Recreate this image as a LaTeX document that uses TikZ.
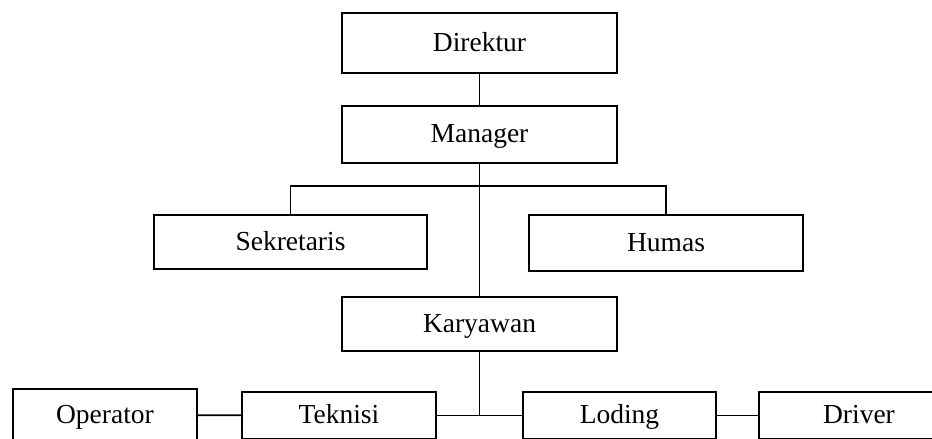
\documentclass[tikz,border=0pt]{standalone}
\usepackage{fontspec}
\setmainfont{Liberation Serif}
\usetikzlibrary{calc}

\begin{document}
\begin{tikzpicture}[x=1pt, y=-1pt,
    kotak/.style={draw, line width=1.8pt, inner sep=0pt, text height=20pt, text depth=4pt,
        font=\fontsize{27.5}{33}\selectfont},
    garis/.style={line width=1.8pt}]
    \useasboundingbox (0,0) rectangle (932,439);
    \clip (0,0) rectangle (932,439);
    \node[kotak, minimum width=275, minimum height=60] (dir) at (479.5, 43) {Direktur};
    \node[kotak, minimum width=275, minimum height=57] (man) at (479.5, 134.5) {Manager};
    \node[kotak, minimum width=273, minimum height=54] (sek) at (290.5, 242) {Sekretaris};
    \node[kotak, minimum width=274, minimum height=56] (hum) at (666, 243) {Humas};
    \node[kotak, minimum width=275, minimum height=54] (kar) at (479.5, 324) {Karyawan};
    \node[kotak, minimum width=184, minimum height=52] (op) at (105, 415) {Operator};
    \node[kotak, minimum width=194, minimum height=47] (tek) at (339, 415.5) {Teknisi};
    \node[kotak, minimum width=193, minimum height=47] (lod) at (619.5, 415.5) {Loding};
    \node[kotak, minimum width=200, minimum height=47] (drv) at (859, 415.5) {Driver};
    \coordinate (bar) at (479.5, 186);
    \draw[garis] (dir) -- (man);
    \draw[garis] (man) -- (kar);
    \draw[garis] (sek.north) |- (bar) -| (hum.north);
    \draw[garis] (kar.south) |- (tek.east);
    \draw[garis] (kar.south) |- (lod.west);
    \draw[garis] (op) -- (tek);
    \draw[garis] (lod) -- (drv);
\end{tikzpicture}
\end{document}
